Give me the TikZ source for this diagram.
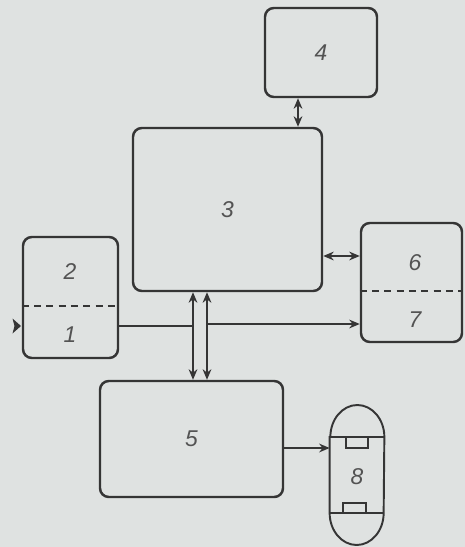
\documentclass[tikz,border=0pt]{standalone}
\usepackage{fontspec}
\setsansfont{Liberation Sans}
\usepackage{tikz}
\usetikzlibrary{arrows.meta,positioning,calc}
\definecolor{paper}{HTML}{DFE2E1}
\definecolor{ink}{HTML}{353535}
\tikzset{
  blk/.style={rectangle,draw=ink,line width=1.4pt,rounded corners=5pt,align=center,font=\fontsize{13}{15}\selectfont\sffamily\itshape,text=ink!85},
  lbl/.style={font=\fontsize{13}{15}\selectfont\sffamily\itshape,text=ink!85},
  sep/.style={draw=ink,line width=0.8pt,dash pattern=on 4pt off 3pt},
  arr/.style={draw=ink,line width=0.85pt,-{Stealth[length=6pt,width=5pt]}},
  dbl/.style={draw=ink,line width=0.85pt,{Stealth[length=6pt,width=5pt]}-{Stealth[length=6pt,width=5pt]}},
  capl/.style={draw=ink,line width=1.1pt},
}
\begin{document}
\begin{tikzpicture}
  \fill[paper] (0,0) rectangle (9.30,-10.94);
  \useasboundingbox (0,0) rectangle (9.30,-10.94);
  % blocks
  \node[blk,minimum width=1.90cm,minimum height=2.42cm] (b12) at (1.41,-5.95) {};
  \node[blk,minimum width=3.78cm,minimum height=3.26cm] (b3) at (4.55,-4.19) {3};
  \node[blk,minimum width=2.24cm,minimum height=1.78cm] (b4) at (6.42,-1.05) {4};
  \node[blk,minimum width=2.02cm,minimum height=2.38cm] (b67) at (8.23,-5.65) {};
  \node[blk,minimum width=3.66cm,minimum height=2.32cm] (b5) at (3.83,-8.78) {5};
  \node[minimum width=1.08cm,minimum height=2.80cm,inner sep=0pt] (cap) at (7.14,-9.50) {};
  % labels in split blocks
  \node[lbl] (l2) at (1.40,-5.44) {2};
  \node[lbl] (l1) at (1.40,-6.70) {1};
  \node[lbl] (l6) at (8.30,-5.26) {6};
  \node[lbl] (l7) at (8.30,-6.40) {7};
  \node[lbl] (l8) at (7.14,-9.54) {8};
  \draw[sep] (b12.west |- 0,-6.12) -- (b12.east |- 0,-6.12);
  \draw[sep] (b67.west |- 0,-5.82) -- (b67.east |- 0,-5.82);
  % capsule 8
  \coordinate (ct) at (0,-8.74);
  \coordinate (cb) at (0,-10.26);
  \draw[capl] (cap.west |- ct) -- (cap.west |- cb)
    arc[start angle=180,end angle=360,x radius=0.54cm,y radius=0.64cm]
    -- (cap.east |- ct)
    arc[start angle=0,end angle=180,x radius=0.54cm,y radius=0.64cm] -- cycle;
  \draw[capl] (cap.west |- ct) -- (cap.east |- ct);
  \draw[capl] (cap.west |- cb) -- (cap.east |- cb);
  \draw[capl] (6.92,-8.74) rectangle (7.36,-8.96);
  \draw[capl] (6.86,-10.26) rectangle (7.32,-10.06);
  % connectors
  \coordinate (x4) at (5.96,0);
  \coordinate (y6) at (0,-5.12);
  \coordinate (busl) at (3.86,-6.52);
  \coordinate (busr) at (4.14,-6.48);
  \coordinate (y8) at (0,-8.96);
  \coordinate (in) at (0.42,-6.52);
  \draw[dbl] (b4.south -| x4) -- (b3.north -| x4);
  \draw[dbl] (b3.east |- y6) -- (b67.west |- y6);
  \draw[dbl] (b3.south -| busl) -- (b5.north -| busl);
  \draw[dbl] (b3.south -| busr) -- (b5.north -| busr);
  \draw[draw=ink,line width=0.85pt] (b12.east |- busl) -- (busl);
  \draw[arr] (busr) -- (b67.west |- busr);
  \draw[arr] (b5.east |- y8) -- (cap.west |- y8);
  \fill[ink] (in) -- ++(-0.17,0.15) -- ++(0.04,-0.15) -- ++(-0.04,-0.15) -- cycle;
\end{tikzpicture}
\end{document}
